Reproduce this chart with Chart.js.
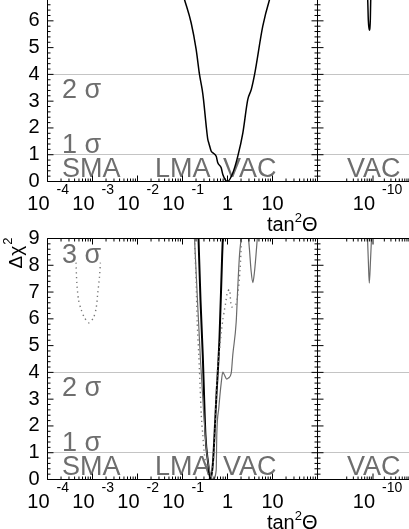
<!DOCTYPE html>
<html>
<head>
<meta charset="utf-8">
<script src="https://cdn.jsdelivr.net/npm/chart.js@4.4.0/dist/chart.umd.min.js"></script>
<style>
  html, body { margin: 0; padding: 0; background: #fff; overflow: hidden; width: 409px; height: 529px; position: relative; }
  canvas { position: absolute; }
</style>
</head>
<body>
<canvas id="tl" width="320" height="310" style="left:0;top:-70px"></canvas>
<canvas id="tr" width="130" height="310" style="left:317px;top:-70px"></canvas>
<canvas id="bl" width="320" height="299" style="left:0;top:230px"></canvas>
<canvas id="br" width="130" height="299" style="left:317px;top:230px"></canvas>
<script>
// ---- data (tan^2 theta, delta chi^2) ----
// top panel, left part: one black curve
const topX = [0.102, 0.111, 0.156, 0.201, 0.239, 0.274, 0.293, 0.337, 0.365, 0.384, 0.435, 0.471, 0.561, 0.608, 0.724, 0.787, 1.0, 1.31, 1.69, 2.19, 2.82, 3.37, 3.98, 6.08, 8.57, 9.51];
const topY = [7.0, 6.79, 5.92, 4.93, 3.99, 3.43, 3.06, 2.06, 1.57, 1.44, 1.13, 1.07, 0.94, 0.70, 0.51, 0.26, 0.0, 0.32, 0.94, 1.81, 3.06, 3.43, 3.98, 5.8, 6.79, 7.0];
// top panel, right (VAC) part
const topVacX = [7.05e-11, 7.23e-11, 7.50e-11, 7.97e-11, 8.48e-11, 8.69e-11, 8.90e-11];
const topVacY = [7.0, 6.79, 6.04, 5.65, 6.04, 6.79, 7.0];

// bottom panel, left part
const botBlackX = [0.227, 0.251, 0.282, 0.324, 0.369, 0.419, 0.476, 0.514, 0.561, 0.664, 0.762, 0.787];
const botBlackY = [9, 6.71, 4.65, 1.66, 0.65, 0.0, 0.65, 1.66, 2.97, 5.29, 8.39, 9];
const botGrayX = [0.185, 0.215, 0.251, 0.293, 0.341, 0.398, 0.476, 0.561, 0.578, 0.641, 0.724, 0.787, 0.857, 0.964, 1.05, 1.21, 1.31, 1.56, 1.69, 1.85, 2.01];
const botGrayY = [9, 6.71, 4.46, 2.59, 1.1, 0.35, 0.0, 0.35, 1.66, 2.67, 3.6, 4.01, 3.9, 3.75, 3.79, 3.97, 4.65, 5.88, 7.16, 8.39, 9];
const botDotX = [0.185, 0.201, 0.212, 0.230, 0.247, 0.261, 0.282, 0.308, 0.350, 0.408, 0.464, 0.501, 0.528, 0.561, 0.578, 0.608, 0.664, 0.724, 0.787, 0.857, 0.903, 1.0, 1.11, 1.23, 1.51, 1.67, 1.90, 2.05];
const botDotY = [9, 7.39, 5.9, 4.65, 3.42, 2.41, 1.66, 0.91, 0.35, 0.0, 0.35, 1.1, 1.84, 3.08, 3.6, 4.2, 4.84, 5.47, 5.96, 6.34, 6.56, 7.01, 7.09, 6.45, 6.52, 6.82, 7.83, 9];
const botUX = [2.93, 3.08, 3.33, 3.65, 3.98, 4.30, 4.59];
const botUY = [9, 8.58, 7.83, 7.35, 7.76, 8.39, 9];
const smaDotX = [4.3e-4, 4.48e-4, 4.89e-4, 5.61e-4, 6.64e-4, 8.28e-4, 1.05e-3, 1.21e-3, 1.31e-3, 1.43e-3, 1.50e-3];
const smaDotY = [8.1, 7.35, 6.71, 6.34, 6.04, 5.85, 6.04, 6.41, 6.97, 7.57, 8.1];
// bottom panel, right (VAC) part
const botVacX = [7.14e-11, 7.50e-11, 7.97e-11, 8.59e-11, 9.12e-11];
const botVacY = [9, 8.2, 7.33, 8.2, 9];

// axis tick labels
const yTicks = [0, 1, 2, 3, 4, 5, 6, 7, 8, 9];
const leftTickVals = [1e-4, 1e-3, 1e-2, 1e-1, 1, 10];
const leftTickText = [['10', '-4'], ['10', '-3'], ['10', '-2'], ['10', '-1'], ['1', ''], ['10', '']];
const rightTickVals = [1e-10];
const rightTickText = [['10', '-10']];

const FONT = '"Liberation Sans", Arial, Helvetica, sans-serif';
const LABEL_GRAY = '#6e6e6e';

const pts = (xs, ys) => xs.map((v, i) => ({ x: v, y: ys[i] }));

// frame, inward ticks, grid lines at 1 and 4 sigma, text
const frame = {
  id: 'frame',
  beforeDatasetsDraw(chart, args, o) {
    const { ctx, chartArea: a, scales: { x, y } } = chart;
    ctx.save();
    ctx.strokeStyle = '#c4c4c4';
    ctx.lineWidth = 1;
    [1, 4].forEach(v => {
      const py = Math.floor(y.getPixelForValue(v)) + 0.5;
      ctx.beginPath(); ctx.moveTo(a.left, py); ctx.lineTo(a.right, py); ctx.stroke();
    });
    ctx.fillStyle = LABEL_GRAY;
    ctx.font = '27px ' + FONT;
    ctx.textBaseline = 'alphabetic';
    o.texts.forEach(t => ctx.fillText(t.t, x.getPixelForValue(t.x), y.getPixelForValue(t.y)));
    ctx.restore();
  },
  afterDatasetsDraw(chart, args, o) {
    const { ctx, chartArea: a, scales: { x, y } } = chart;
    ctx.save();
    ctx.strokeStyle = '#000';
    ctx.lineWidth = 1;
    ctx.beginPath();
    ctx.moveTo(a.left, a.top); ctx.lineTo(a.right, a.top);
    ctx.moveTo(a.left, a.bottom); ctx.lineTo(a.right, a.bottom);
    if (o.leftLine) { ctx.moveTo(a.left, a.top); ctx.lineTo(a.left, a.bottom); }
    if (o.rightLine) { ctx.moveTo(a.right, a.top); ctx.lineTo(a.right, a.bottom); }
    // y ticks every 0.2
    for (let i = 0; i <= 45; i++) {
      const py = y.getPixelForValue(i / 5);
      const len = i % 5 === 0 ? 6 : 3;
      if (o.leftLine) { ctx.moveTo(a.left, py); ctx.lineTo(a.left + len, py); }
      if (o.rightLine) { ctx.moveTo(a.right, py); ctx.lineTo(a.right - len, py); }
    }
    // log x ticks
    const lo = Math.max(x.min, o.tickFrom || 0);
    const n0 = Math.floor(Math.log10(lo)), n1 = Math.ceil(Math.log10(x.max));
    for (let n = n0; n <= n1; n++) {
      for (let k = 1; k <= 9; k++) {
        const v = k * Math.pow(10, n);
        if (v < lo * 0.999 || v > x.max) continue;
        const px = x.getPixelForValue(v);
        const len = k === 1 ? 6 : 3;
        ctx.moveTo(px, a.bottom); ctx.lineTo(px, a.bottom - len);
        ctx.moveTo(px, a.top); ctx.lineTo(px, a.top + len);
      }
    }
    ctx.stroke();

    ctx.fillStyle = '#000';
    if (o.yLabels) {
      ctx.font = '20px ' + FONT;
      ctx.textAlign = 'right';
      ctx.textBaseline = 'middle';
      yTicks.forEach(v => ctx.fillText(String(v), a.left - 8, y.getPixelForValue(v)));
      // rotated y title
      ctx.save();
      ctx.translate(22, a.top - 1);
      ctx.rotate(-Math.PI / 2);
      ctx.textBaseline = 'alphabetic';
      ctx.textAlign = 'left';
      ctx.font = '13px ' + FONT;
      const w2 = ctx.measureText('2').width;
      ctx.fillText('2', -w2, -10);
      ctx.font = '19px ' + FONT;
      const w1 = ctx.measureText('\u0394\u03c7').width;
      ctx.fillText('\u0394\u03c7', -w2 - w1 - 1, 0);
      ctx.restore();
      // x title
      ctx.textBaseline = 'alphabetic';
      ctx.textAlign = 'left';
      ctx.font = '20px ' + FONT;
      const wT = ctx.measureText('\u0398').width, wtan = ctx.measureText('tan').width;
      ctx.font = '13px ' + FONT;
      const wS = ctx.measureText('2').width;
      const base = a.bottom + 49;
      const sx = a.right - wT - wS - wtan;
      ctx.font = '20px ' + FONT;
      ctx.fillText('tan', sx, base);
      ctx.font = '13px ' + FONT;
      ctx.fillText('2', sx + wtan, base - 9);
      ctx.font = '20px ' + FONT;
      ctx.fillText('\u0398', sx + wtan + wS, base);
    }
    // x tick labels
    o.tickVals.forEach((v, i) => {
      const px = x.getPixelForValue(v);
      const [b, e] = o.tickText[i];
      ctx.textBaseline = 'middle';
      ctx.font = '20px ' + FONT;
      if (e) {
        ctx.textAlign = 'right';
        ctx.fillText(b, px + 2, a.bottom + 22.5);
        ctx.font = '14px ' + FONT;
        ctx.textAlign = 'left';
        ctx.fillText(e, px + 9, a.bottom + 9);
      } else {
        ctx.textAlign = 'center';
        ctx.fillText(b, px, a.bottom + 22.5);
      }
    });
    ctx.restore();
  }
};

function makePanel(id, xmin, xmax, datasets, o, pad) {
  return new Chart(document.getElementById(id), {
    type: 'line',
    data: { datasets },
    options: {
      responsive: false,
      animation: false,
      devicePixelRatio: 1,
      layout: { padding: pad },
      scales: {
        x: { type: 'logarithmic', min: xmin, max: xmax, display: false },
        y: { type: 'linear', min: 0, max: 9, display: false }
      },
      elements: { point: { radius: 0 } },
      plugins: { legend: { display: false }, tooltip: { enabled: false }, frame: o }
    },
    plugins: [frame]
  });
}

const black = (data, w) => ({ data, borderColor: '#000', borderWidth: w, fill: false, cubicInterpolationMode: 'monotone', clip: 0 });
const gray = (data) => ({ data, borderColor: '#6a6a6a', borderWidth: 1.2, fill: false, cubicInterpolationMode: 'monotone', clip: 0 });
const dotted = (data) => ({ data, borderColor: '#777', borderWidth: 1.4, borderDash: [1.3, 3.5], fill: false, tension: 0.25, clip: 0 });

const LEFT_MIN = 1e-4, LEFT_MAX = 100;
const RIGHT_MIN = 3.34e-12, RIGHT_MAX = 9.29e-9;

const leftTexts = (extra) => [
  { t: 'SMA', x: 2.1e-4, y: 0.18 },
  { t: 'LMA', x: 0.0245, y: 0.18 },
  { t: 'VAC', x: 0.794, y: 0.18 },
  { t: '1 \u03c3', x: 2.1e-4, y: 1.07 },
  { t: '2 \u03c3', x: 2.1e-4, y: 3.12 }
].concat(extra);
const rightTexts = [{ t: 'VAC', x: 2.04e-11, y: 0.18 }];

makePanel('tl', LEFT_MIN, LEFT_MAX, [black(pts(topX, topY), 1.5)],
  { leftLine: true, rightLine: true, yLabels: true, tickVals: leftTickVals, tickText: leftTickText, texts: leftTexts([]) },
  { left: 47.5, right: 2.5, top: 10.5, bottom: 58.5 });
makePanel('tr', RIGHT_MIN, RIGHT_MAX, [black(pts(topVacX, topVacY), 1.5)],
  { leftLine: true, rightLine: false, yLabels: false, tickFrom: 2e-11, tickVals: rightTickVals, tickText: rightTickText, texts: rightTexts },
  { left: 0.5, right: 0, top: 10.5, bottom: 58.5 });
makePanel('bl', LEFT_MIN, LEFT_MAX, [
    dotted(pts(smaDotX, smaDotY)),
    dotted(pts(botDotX, botDotY)),
    gray(pts(botGrayX, botGrayY)),
    gray(pts(botUX, botUY)),
    black(pts(botBlackX, botBlackY), 2)
  ],
  { leftLine: true, rightLine: true, yLabels: true, tickVals: leftTickVals, tickText: leftTickText, texts: leftTexts([{ t: '3 \u03c3', x: 2.1e-4, y: 8.1 }]) },
  { left: 47.5, right: 2.5, top: 8.5, bottom: 49.5 });
makePanel('br', RIGHT_MIN, RIGHT_MAX, [gray(pts(botVacX, botVacY))],
  { leftLine: true, rightLine: false, yLabels: false, tickFrom: 2e-11, tickVals: rightTickVals, tickText: rightTickText, texts: rightTexts },
  { left: 0.5, right: 0, top: 8.5, bottom: 49.5 });
</script>
</body>
</html>
